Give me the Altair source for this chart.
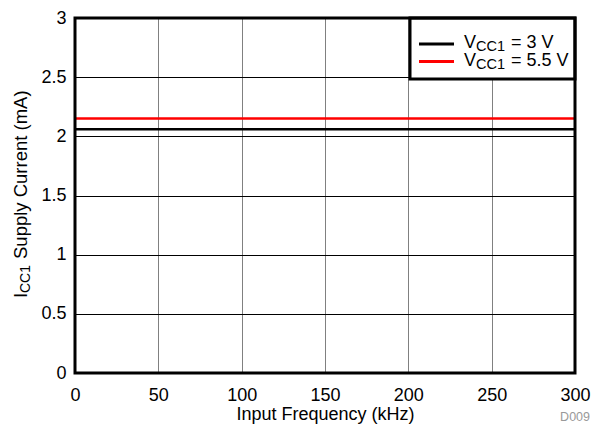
import altair as alt
import pandas as pd

# ---- data ----
freq_khz = [0, 50, 100, 150, 200, 250, 300]
icc_3v = [2.06, 2.06, 2.06, 2.06, 2.06, 2.06, 2.06]
icc_5v5 = [2.15, 2.15, 2.15, 2.15, 2.15, 2.15, 2.15]
series_names = ["VCC1 = 3 V", "VCC1 = 5.5 V"]
series_colors = ["#000000", "#ff0000"]
legend_main = "V"
legend_sub = "CC1"
legend_tails = ["= 3 V", "= 5.5 V"]
x_ticks = [0, 50, 100, 150, 200, 250, 300]
y_ticks = [0, 0.5, 1, 1.5, 2, 2.5, 3]
x_title = "Input Frequency (kHz)"
y_title_parts = ["I", "CC1", "Supply Current (mA)"]
doc_id = "D009"

FONT = "Liberation Sans, Arial, Helvetica, sans-serif"

rows = []
for name, vals in zip(series_names, [icc_3v, icc_5v5]):
    for f, v in zip(freq_khz, vals):
        rows.append({"freq": f, "icc": v, "series": name})
df = pd.DataFrame(rows)

xs = alt.Scale(domain=[0, 300], nice=False, zero=False)
ys = alt.Scale(domain=[0, 3], nice=False, zero=False)

base = alt.Chart(df)

lines = base.mark_line(strokeWidth=2.5).encode(
    x=alt.X("freq:Q", scale=xs,
            axis=alt.Axis(values=x_ticks, title=x_title, grid=True, gridColor="#808080",
                          gridWidth=1, ticks=False, tickSize=0, domain=False, format="d",
                          labelPadding=13, titlePadding=1, labelFlush=False)),
    y=alt.Y("icc:Q", scale=ys,
            axis=alt.Axis(values=y_ticks, title=None, grid=True, gridColor="#000000",
                          gridWidth=1, ticks=False, tickSize=0, domain=False, format="~g",
                          labelPadding=9, labelFlush=False)),
    color=alt.Color("series:N", scale=alt.Scale(domain=series_names, range=series_colors),
                    legend=None),
)

one = alt.Chart(pd.DataFrame({"a": [0]}))

# plot border on top
border = one.mark_rect(filled=False, stroke="black", strokeWidth=3).encode(
    x=alt.datum(0, scale=xs), x2=alt.datum(300), y=alt.datum(0, scale=ys), y2=alt.datum(3)
)

# custom legend (with subscripts)
legend_box = one.mark_rect(fill="white", stroke="black", strokeWidth=3).encode(
    x=alt.value(335), x2=alt.value(500), y=alt.value(0), y2=alt.value(61)
)
legend_layers = [legend_box]
row_line_y = [26, 43.5]
row_base_y = [29.5, 48]
for i in range(2):
    legend_layers.append(
        one.mark_rule(strokeWidth=3, color=series_colors[i]).encode(
            x=alt.value(344), x2=alt.value(379), y=alt.value(row_line_y[i])
        )
    )
    legend_layers.append(
        one.mark_text(align="left", baseline="alphabetic", fontSize=18, font=FONT, color="black").encode(
            x=alt.value(389), y=alt.value(row_base_y[i]), text=alt.value(legend_main)
        )
    )
    legend_layers.append(
        one.mark_text(align="left", baseline="alphabetic", fontSize=14.5, font=FONT, color="black").encode(
            x=alt.value(401), y=alt.value(row_base_y[i] + 3), text=alt.value(legend_sub)
        )
    )
    legend_layers.append(
        one.mark_text(align="left", baseline="alphabetic", fontSize=18, font=FONT, color="black").encode(
            x=alt.value(436), y=alt.value(row_base_y[i]), text=alt.value(legend_tails[i])
        )
    )

# y-axis title with subscript
ytitle = [
    one.mark_text(angle=270, align="left", baseline="alphabetic", fontSize=18.5, font=FONT, color="black").encode(
        x=alt.value(-48), y=alt.value(280), text=alt.value(y_title_parts[0])
    ),
    one.mark_text(angle=270, align="left", baseline="alphabetic", fontSize=14, font=FONT, color="black").encode(
        x=alt.value(-45), y=alt.value(275), text=alt.value(y_title_parts[1])
    ),
    one.mark_text(angle=270, align="left", baseline="alphabetic", fontSize=18.5, font=FONT, color="black").encode(
        x=alt.value(-48), y=alt.value(241), text=alt.value(y_title_parts[2])
    ),
]

docid = one.mark_text(align="right", baseline="alphabetic", fontSize=12.5, font=FONT, color="#999999").encode(
    x=alt.value(515), y=alt.value(403), text=alt.value(doc_id)
)

chart = alt.layer(lines, *legend_layers, border, *ytitle, docid).properties(
    width=500, height=355,
    background="white",
    autosize=alt.AutoSizeParams(type="none"),
    padding={"left": 67, "top": 10, "right": 20, "bottom": 51},
).configure_view(stroke=None).configure_axis(
    labelFont=FONT, titleFont=FONT, labelFontSize=18, titleFontSize=18,
    titleFontWeight="normal", labelColor="black", titleColor="black",
)

chart.save("out.html", embed_options={"renderer": "svg", "actions": False})
